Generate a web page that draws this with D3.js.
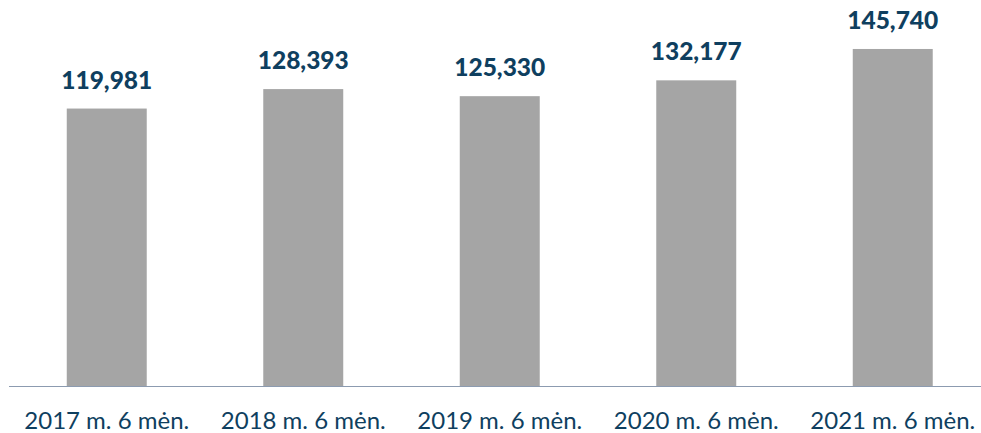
<!DOCTYPE html>
<html>
<head>
<meta charset="utf-8">
<script src="https://cdn.jsdelivr.net/npm/d3@7"></script>
<style>
  body { margin: 0; background: #fff; }
  svg { display: block; }
</style>
</head>
<body>
<div id="chart"></div>
<script>
const categories = ['2017 m. 6 mėn.', '2018 m. 6 mėn.', '2019 m. 6 mėn.', '2020 m. 6 mėn.', '2021 m. 6 mėn.'];
const values = [119981, 128393, 125330, 132177, 145740];

const width = 981, height = 433;
const baseY = 386;

const svg = d3.select('#chart')
    .append('svg')
    .attr('width', width)
    .attr('height', height);

const x = d3.scaleBand()
    .domain(categories)
    .range([8.5, 991])
    .paddingInner(0.593)
    .paddingOuter(0.2965);

const y = d3.scaleLinear()
    .domain([0, 160000])
    .range([baseY, 16]);

// bars
svg.selectAll('rect.bar')
    .data(values)
    .enter()
    .append('rect')
    .attr('class', 'bar')
    .attr('x', (d, i) => x(categories[i]))
    .attr('y', d => y(d))
    .attr('width', x.bandwidth())
    .attr('height', d => baseY - y(d))
    .attr('fill', '#a5a5a5');

// baseline
svg.append('line')
    .attr('x1', 9)
    .attr('x2', 981)
    .attr('y1', baseY + 0.5)
    .attr('y2', baseY + 0.5)
    .attr('stroke', '#8c9bb0')
    .attr('stroke-width', 1);

// value labels
svg.selectAll('text.val')
    .data(values)
    .enter()
    .append('text')
    .attr('class', 'val')
    .attr('x', (d, i) => x(categories[i]) + x.bandwidth() / 2)
    .attr('y', d => y(d) - 20)
    .attr('text-anchor', 'middle')
    .attr('font-family', 'Lato, sans-serif')
    .attr('font-weight', 900)
    .attr('font-size', 24.5)
    .attr('fill', '#0f3f5f')
    .text(d => d3.format(',')(d));

// category labels
svg.selectAll('text.cat')
    .data(categories)
    .enter()
    .append('text')
    .attr('class', 'cat')
    .attr('x', d => x(d) + x.bandwidth() / 2)
    .attr('y', 429)
    .attr('text-anchor', 'middle')
    .attr('font-family', 'Lato, sans-serif')
    .attr('font-size', 24)
    .attr('fill', '#0f3f5f')
    .text(d => d);
</script>
</body>
</html>
